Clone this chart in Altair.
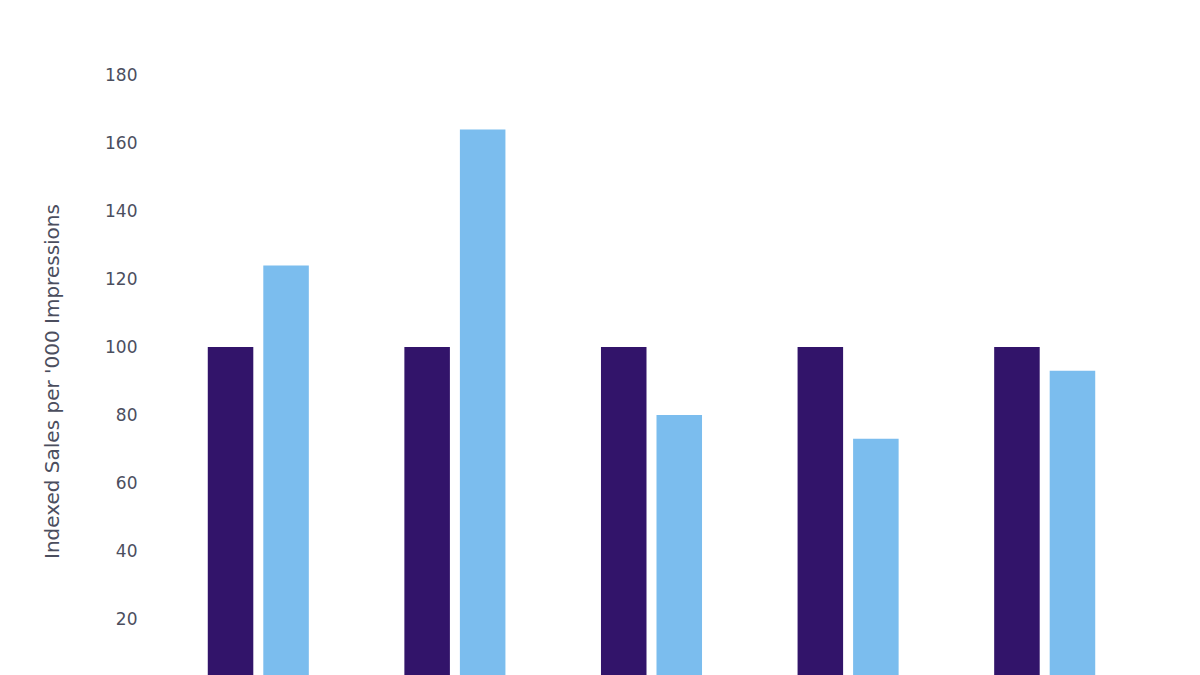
import altair as alt
import pandas as pd

categories = ["Group 1", "Group 2", "Group 3", "Group 4", "Group 5"]
series = ["Benchmark", "Campaign"]
benchmark = [100, 100, 100, 100, 100]
campaign = [124, 164, 80, 73, 93]

rows = []
for i, c in enumerate(categories):
    rows.append({"category": c, "series": series[0], "value": benchmark[i]})
    rows.append({"category": c, "series": series[1], "value": campaign[i]})
df = pd.DataFrame(rows)

font = "DejaVu Sans"
text_color = "#4b4e5e"

chart = alt.Chart(df).mark_bar().encode(
    x=alt.X("category:N", sort=categories, title=None,
            scale=alt.Scale(paddingInner=0.486, paddingOuter=0.243),
            axis=alt.Axis(labels=False, domain=False, ticks=False)),
    xOffset=alt.XOffset("series:N", sort=series,
                        scale=alt.Scale(paddingInner=0.18, paddingOuter=0)),
    y=alt.Y("value:Q", title="Indexed Sales per '000 Impressions",
            scale=alt.Scale(domain=[0, 180], nice=False),
            axis=alt.Axis(values=list(range(0, 181, 20)), grid=False, domain=False, ticks=False,
                          labelPadding=23, labelFont=font, labelFontSize=17, labelColor=text_color,
                          titleFont=font, titleFontSize=20, titleFontWeight="normal",
                          titleColor=text_color, titlePadding=42)),
    color=alt.Color("series:N", sort=series,
                    scale=alt.Scale(domain=series, range=["#32146a", "#7bbdee"]),
                    legend=None),
).properties(
    width=983,
    height=612,
    autosize=alt.AutoSizeParams(type="none"),
    padding={"left": 152, "top": 67, "right": 49, "bottom": 10},
).configure(background="white").configure_view(stroke=None)

chart.save("out.html", embed_options={"renderer": "svg", "actions": False})
